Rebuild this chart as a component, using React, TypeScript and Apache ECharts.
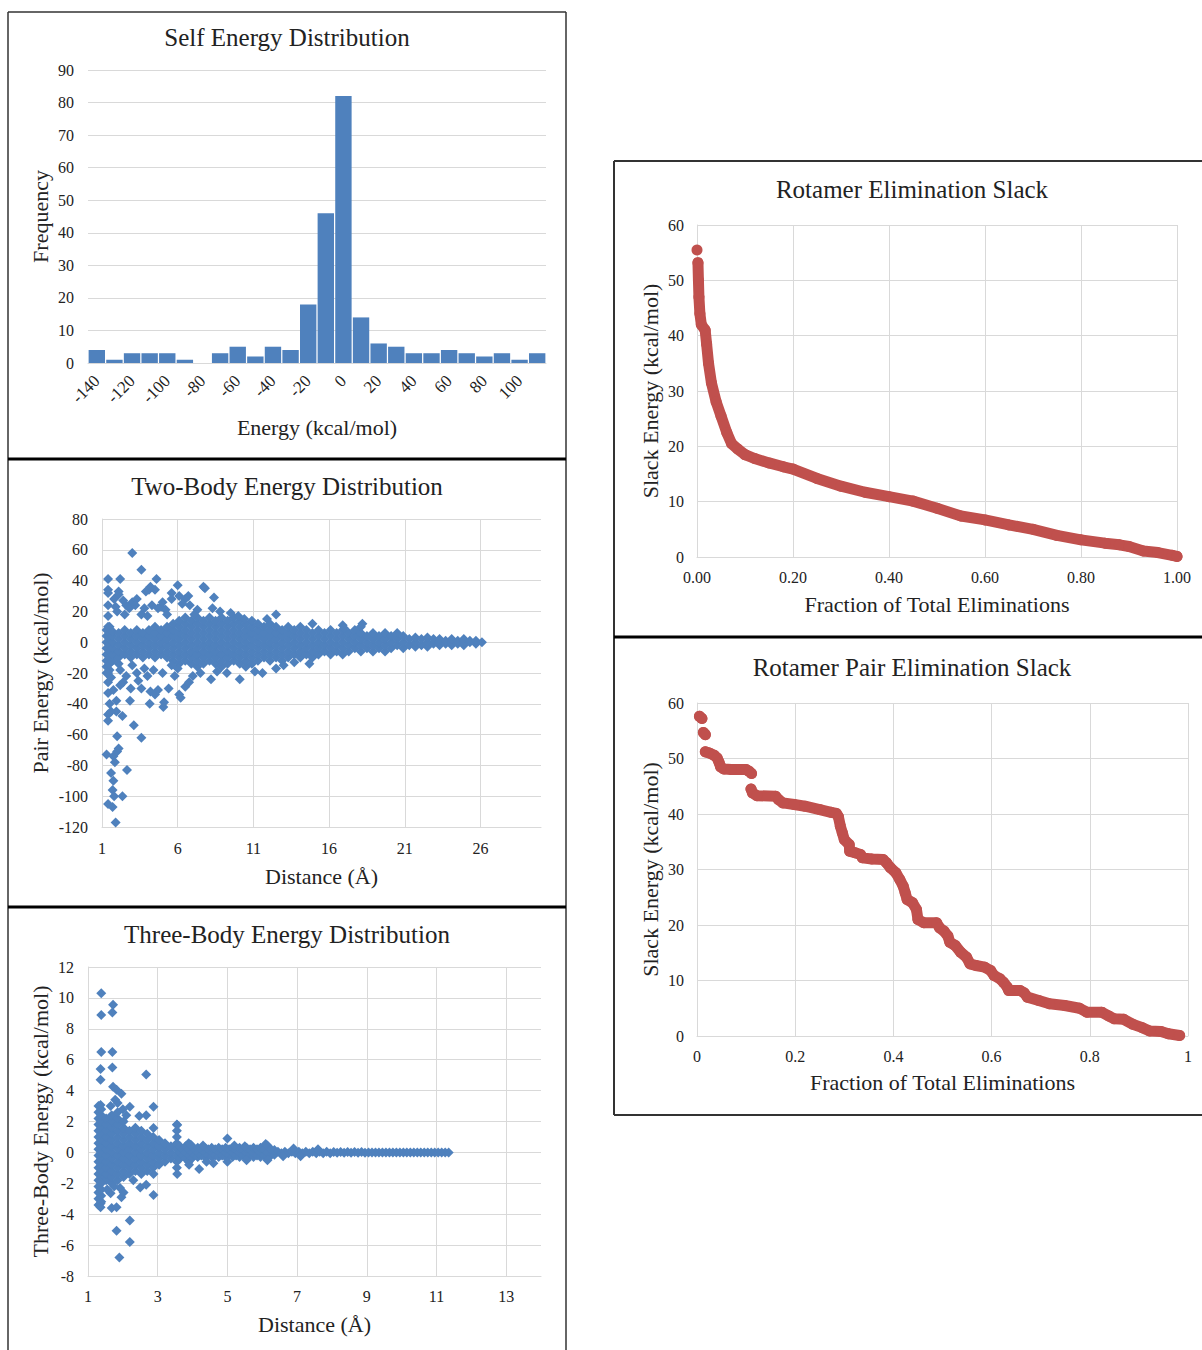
import React, { useEffect, useRef } from "react";
import * as echarts from "echarts";

const FONT = "'Liberation Serif', 'Times New Roman', serif";
const BLUE = "#4F81BD";
const RED = "#C0504D";
const GRID = "#D9D9D9";
const TXT = "#222222";

// ---------- Self energy histogram ----------
const histBins = [-140, -130, -120, -110, -100, -90, -80, -70, -60, -50, -40, -30, -20, -10, 0, 10, 20, 30, 40, 50, 60, 70, 80, 90, 100, 110];
const histCounts = [4, 1, 3, 3, 3, 1, 0, 3, 5, 2, 5, 4, 18, 46, 82, 14, 6, 5, 3, 3, 4, 3, 2, 3, 1, 3];

// ---------- Two-body energy (distance, [energies]) dense core ----------
const pairCore: [number, number[]][] = [
  [1.3, [-20, -16, -12, -8, -4, 0, 4, 8]],
  [1.5, [-18, -14, -10, -6, -2, 2, 6, 10]],
  [1.7, [-12, -8, -4, 0, 4, 7]],
  [2.1, [-14, -10, -6, -2, 2, 6]],
  [2.5, [-8, -4, 0, 4, 8]],
  [2.9, [-10, -6, -2, 2, 6]],
  [3.3, [-8, -4, 0, 4, 8]],
  [3.7, [-10, -6, -2, 2, 6]],
  [4.1, [-8, -4, 0, 4, 8]],
  [4.5, [-10, -6, -2, 2, 6, 10]],
  [4.9, [-8, -4, 0, 4, 8]],
  [5.3, [-10, -6, -2, 2, 6, 10]],
  [5.7, [-12, -8, -4, 0, 4, 8, 12]],
  [6.1, [-14, -10, -6, -2, 2, 6, 10, 14]],
  [6.5, [-12, -8, -4, 0, 4, 8, 12, 16]],
  [6.9, [-14, -10, -6, -2, 2, 6, 10, 14]],
  [7.3, [-16, -12, -8, -4, 0, 4, 8, 12, 16]],
  [7.7, [-14, -10, -6, -2, 2, 6, 10, 14]],
  [8.1, [-12, -8, -4, 0, 4, 8, 12, 16]],
  [8.5, [-14, -10, -6, -2, 2, 6, 10, 14]],
  [8.9, [-16, -12, -8, -4, 0, 4, 8, 12, 16]],
  [9.3, [-14, -10, -6, -2, 2, 6, 10, 14]],
  [9.7, [-12, -8, -4, 0, 4, 8, 12, 16]],
  [10.1, [-14, -10, -6, -2, 2, 6, 10, 14]],
  [10.5, [-16, -12, -8, -4, 0, 4, 8, 12]],
  [10.9, [-14, -10, -6, -2, 2, 6, 10, 14]],
  [11.3, [-12, -8, -4, 0, 4, 8, 12]],
  [11.7, [-10, -6, -2, 2, 6, 10]],
  [12.1, [-12, -8, -4, 0, 4, 8, 12]],
  [12.5, [-10, -6, -2, 2, 6, 10]],
  [12.9, [-12, -8, -4, 0, 4, 8]],
  [13.3, [-10, -6, -2, 2, 6, 10]],
  [13.7, [-8, -4, 0, 4, 8]],
  [14.1, [-10, -6, -2, 2, 6, 10]],
  [14.5, [-8, -4, 0, 4, 8]],
  [14.9, [-10, -6, -2, 2, 6]],
  [15.3, [-8, -4, 0, 4, 8]],
  [15.7, [-6, -2, 2, 6]],
  [16.1, [-8, -4, 0, 4, 8]],
  [16.5, [-6, -2, 2, 6]],
  [16.9, [-8, -4, 0, 4, 8]],
  [17.3, [-6, -2, 2, 6]],
  [17.7, [-4, 0, 4, 8]],
  [18.1, [-6, -2, 2, 6, 10]],
  [18.5, [-4, 0, 4]],
  [18.9, [-6, -2, 2, 6]],
  [19.3, [-4, 0, 4]],
  [19.7, [-6, -2, 2, 6]],
  [20.1, [-4, 0, 4]],
  [20.5, [-2, 2, 6]],
  [20.9, [-4, 0, 4]],
  [21.3, [-2, 2]],
  [21.7, [-3, 0, 3]],
  [22.1, [-2, 2]],
  [22.5, [-3, 0, 3]],
  [22.9, [-1, 2]],
  [23.3, [-2, 0, 2]],
  [23.7, [-1, 1]],
  [24.1, [-2, 0, 2]],
  [24.5, [-1, 1]],
  [24.9, [-2, 0, 2]],
  [25.3, [0, 1]],
  [25.7, [-1, 1]],
  [26.1, [0]],
];

// ---------- Two-body energy scattered points ----------
const pairScatter: [number, number][] = [
  [3.0, 58], [3.6, 47], [1.4, 41], [2.2, 41], [4.6, 41], [6.0, 37], [1.4, 34], [1.4, 32], [2.1, 33], [2.1, 31],
  [4.2, 36], [4.1, 34], [3.9, 33], [4.5, 34], [5.6, 32], [7.7, 36], [7.8, 35], [8.4, 29], [6.7, 30], [6.5, 28],
  [6.1, 30], [3.0, 26], [3.3, 28], [2.4, 27], [2.6, 24], [1.4, 24], [1.4, 17], [1.4, 10], [1.9, 23], [3.6, 18],
  [4.0, 17], [5.6, 28], [4.9, 23], [5.2, 21], [4.7, 22], [7.3, 21], [8.3, 22], [11.9, 15], [12.5, 18], [10.4, 15],
  [14.9, 12], [16.9, 11], [18.2, 12], [17.0, 9], [2.8, 22], [3.2, 24], [4.3, 24], [5.0, 26], [5.3, 18], [2.5, 18],
  [1.8, 28], [2.0, 20], [3.8, 22], [6.3, 25], [6.8, 24], [7.1, 18], [8.8, 20], [9.5, 19], [10.0, 17],
  [1.4, -20], [1.4, -26], [1.4, -33], [1.4, -47], [1.4, -51], [1.3, -73], [1.75, -74], [2.0, -71], [2.1, -69], [1.85, -78],
  [1.6, -85], [1.75, -90], [1.7, -96], [1.8, -100], [1.4, -105], [1.7, -107], [1.9, -117], [2.35, -100], [2.65, -83], [2.0, -61],
  [2.35, -48], [1.95, -45], [1.95, -38], [2.85, -38], [3.1, -54], [3.6, -62], [1.75, -31], [2.2, -28], [2.4, -26], [3.6, -30],
  [4.2, -32], [4.15, -40], [4.5, -34], [4.7, -31], [5.05, -42], [5.1, -39], [5.4, -30], [6.1, -34], [6.2, -36], [6.5, -29],
  [6.75, -26], [3.0, -15], [3.3, -20], [3.8, -17], [8.2, -24], [9.25, -20], [10.1, -24], [11.1, -19], [11.6, -20], [12.5, -17],
  [13.0, -15], [13.7, -13], [14.7, -14], [2.6, -22], [3.4, -25], [4.0, -22], [4.4, -18], [5.0, -20], [5.8, -22], [6.0, -17],
  [7.0, -22], [7.5, -20], [8.6, -19], [2.9, -30], [1.6, -23], [2.2, -18], [5.6, -15], [1.5, -40], [1.6, -45],
];

// ---------- Three-body energy dense core ----------
const threeCore: [number, number[]][] = [
  [1.30, [-3.4, -3.0, -2.6, -2.2, -1.8, -1.4, -1.0, -0.6, -0.2, 0.2, 0.6, 1.0, 1.4, 1.8, 2.2, 2.6, 3.0]],
  [1.38, [-3.2, -2.8, -2.4, -2.0, -1.6, -1.2, -0.8, -0.4, 0, 0.4, 0.8, 1.2, 1.6, 2.0, 2.4, 2.8]],
  [1.52, [-1.8, -1.4, -1.0, -0.6, -0.2, 0.2, 0.6, 1.0, 1.4, 1.8, 2.2]],
  [1.68, [-2.0, -1.6, -1.2, -0.8, -0.4, 0, 0.4, 0.8, 1.2, 1.6, 2.0, 2.4]],
  [1.85, [-1.8, -1.4, -1.0, -0.6, -0.2, 0.2, 0.6, 1.0, 1.4, 1.8, 2.2, 2.6]],
  [2.02, [-1.6, -1.2, -0.8, -0.4, 0, 0.4, 0.8, 1.2, 1.6, 2.0]],
  [2.19, [-1.4, -1.0, -0.6, -0.2, 0.2, 0.6, 1.0, 1.4]],
  [2.36, [-1.2, -0.8, -0.4, 0, 0.4, 0.8, 1.2, 1.6]],
  [2.53, [-1.4, -1.0, -0.6, -0.2, 0.2, 0.6, 1.0, 1.4]],
  [2.70, [-1.2, -0.8, -0.4, 0, 0.4, 0.8, 1.2]],
  [2.87, [-1.0, -0.6, -0.2, 0.2, 0.6, 1.0]],
  [3.04, [-0.8, -0.4, 0, 0.4, 0.8]],
  [3.21, [-0.6, -0.2, 0.2, 0.6]],
  [3.38, [-0.4, 0, 0.4]],
  [3.55, [-1.0, -0.6, -0.2, 0.2, 0.6, 1.0, 1.4, 1.8]],
  [3.64, [-0.4, 0, 0.4]],
  [3.72, [-0.2, 0.2]],
  [3.80, [-0.4, 0, 0.4]],
  [3.89, [-0.6, -0.2, 0.2, 0.6]],
  [3.98, [-0.4, 0, 0.4]],
  [4.06, [-0.2, 0.2]],
  [4.15, [-0.3, 0, 0.3]],
  [4.25, [-0.2, 0.2]],
  [4.35, [-0.3, 0, 0.3]],
  [4.45, [-0.2, 0.2]],
  [4.55, [-0.3, 0, 0.3]],
  [4.65, [-0.2, 0.2]],
  [4.75, [-0.3, 0, 0.3]],
  [4.85, [-0.2, 0.2]],
  [4.95, [-0.3, 0, 0.3]],
  [5.05, [-0.2, 0.2]],
  [5.15, [-0.3, 0, 0.3]],
  [5.25, [-0.2, 0.2]],
  [5.35, [-0.3, 0, 0.3]],
  [5.45, [-0.2, 0.2]],
  [5.55, [-0.3, 0, 0.3]],
  [5.65, [-0.2, 0.2]],
  [5.75, [-0.3, 0, 0.3]],
  [5.85, [-0.2, 0.2]],
  [5.95, [-0.3, 0, 0.3]],
  [6.05, [-0.2, 0.2]],
  [6.15, [-0.3, 0, 0.45]],
  [6.25, [-0.2, 0.2]],
  [6.35, [-0.15, 0.15]],
];

// ---------- Three-body energy long tail and outliers ----------
const threeTail: [number, number][] = [
  [6.45, 0.05], [6.55, -0.05], [6.65, 0.05], [6.75, -0.05], [6.85, 0.05], [6.95, -0.05], [7.05, 0.05], [7.15, -0.05],
  [7.25, 0.05], [7.35, -0.05], [7.45, 0.05], [7.55, -0.05], [7.65, 0.05], [7.75, -0.05], [7.85, 0.05], [7.95, -0.05],
  [8.05, 0.02], [8.15, -0.02], [8.25, 0.02], [8.35, -0.02], [8.45, 0.02], [8.55, -0.02], [8.65, 0.02], [8.75, -0.02],
  [8.85, 0.02], [8.95, -0.02], [9.05, 0], [9.15, 0], [9.25, 0], [9.35, 0], [9.45, 0], [9.55, 0],
  [9.65, 0], [9.75, 0], [9.85, 0], [9.95, 0], [10.05, 0], [10.15, 0], [10.25, 0], [10.35, 0],
  [10.45, 0], [10.55, 0], [10.65, 0], [10.75, 0], [10.85, 0], [10.95, 0], [11.05, 0],
  [11.15, 0], [11.25, 0], [11.35, 0],
  [5.5, 0.4], [5.55, -0.5], [3.9, -0.8], [4.4, -0.6], [4.6, -0.7], [5.0, -0.6], [7.1, -0.25], [7.6, 0.2], [6.15, -0.5],
  [3.95, 0.5], [4.3, 0.45], [5.2, 0.45], [6.1, 0.55], [6.6, -0.25], [6.9, 0.25],
];

const threeScatter: [number, number][] = [
  [1.38, 10.3], [1.38, 8.9], [1.72, 9.55], [1.70, 9.05], [1.38, 6.5], [1.70, 6.5], [1.36, 5.4], [1.70, 5.5], [1.36, 4.7], [2.67, 5.05],
  [1.72, 4.25], [1.82, 4.05], [1.96, 3.8], [1.36, 3.07], [2.20, 2.96], [2.88, 2.96], [1.78, 3.4], [1.85, 3.2], [2.47, 2.35], [2.67, 2.4],
  [3.56, 1.77], [5.00, 0.9], [2.88, 1.58], [1.65, 3.0], [2.0, 2.8], [2.1, 2.4],
  [1.36, -3.3], [1.36, -3.55], [1.68, -3.6], [1.82, -3.55], [1.65, -2.65], [1.96, -2.9], [1.92, -2.3], [2.02, -2.6], [1.82, -5.07], [2.2, -4.4],
  [2.2, -5.8], [1.9, -6.8], [2.5, -2.27], [2.67, -2.1], [2.88, -2.76], [2.88, -1.4], [3.56, -1.4], [4.19, -1.08], [1.36, -1.9], [1.75, -2.2],
  [1.55, -2.4], [2.3, -1.8],
];

// ---------- Rotamer elimination slack ----------
const elimSlackPeak: [number, number][] = [[0.0, 55.5]];
const elimSlack: [number, number][] = [
  [0.002, 53.2], [0.003, 50], [0.004, 47], [0.006, 44], [0.009, 42], [0.017, 41], [0.02, 38.5], [0.024, 35],
  [0.03, 31.5], [0.04, 28], [0.05, 25.5], [0.062, 22.5], [0.072, 20.5], [0.085, 19.5], [0.1, 18.5], [0.12, 17.8],
  [0.15, 17], [0.18, 16.3], [0.2, 15.9], [0.25, 14.2], [0.3, 12.8], [0.35, 11.7], [0.4, 10.9], [0.45, 10.1],
  [0.5, 8.8], [0.55, 7.4], [0.6, 6.7], [0.65, 5.8], [0.7, 5.0], [0.75, 3.9], [0.8, 3.1], [0.85, 2.5],
  [0.88, 2.2], [0.9, 1.9], [0.93, 1.1], [0.96, 0.8], [0.99, 0.3], [1.0, 0.1],
];

// ---------- Rotamer pair elimination slack (segments) ----------
const pairSlackA: [number, number][] = [[0.005, 57.6], [0.01, 57.2]];
const pairSlackB: [number, number][] = [[0.013, 54.7], [0.017, 54.3]];
const pairSlackC: [number, number][] = [
  [0.017, 51.2], [0.025, 51], [0.035, 50.6], [0.041, 50.1], [0.045, 49.3], [0.048, 48.5], [0.055, 48.1],
  [0.07, 48], [0.1, 48], [0.106, 47.7], [0.111, 47.3],
];
const pairSlackD: [number, number][] = [
  [0.11, 44.5], [0.113, 43.8], [0.122, 43.3], [0.16, 43.2], [0.166, 42.6], [0.175, 42.0], [0.198, 41.7], [0.22, 41.4],
  [0.25, 40.8], [0.273, 40.3], [0.284, 40.1], [0.288, 39.5], [0.292, 37.8], [0.296, 36.6], [0.3, 35.4], [0.31, 34.5],
  [0.311, 33.3], [0.322, 33], [0.333, 32.7], [0.337, 32.1], [0.356, 31.9], [0.379, 31.8], [0.386, 31.2], [0.394, 30.3],
  [0.405, 29.4], [0.413, 28.2], [0.42, 27], [0.424, 25.8], [0.428, 24.6], [0.439, 24], [0.447, 22.8], [0.45, 21],
  [0.462, 20.4], [0.488, 20.4], [0.494, 19.5], [0.503, 18.9], [0.511, 18], [0.515, 16.9], [0.526, 16.3], [0.537, 15.1],
  [0.549, 14.2], [0.556, 13], [0.568, 12.7], [0.586, 12.4], [0.598, 11.8], [0.605, 10.9], [0.617, 10.3], [0.624, 9.7],
  [0.632, 8.8], [0.635, 8.2], [0.658, 8.2], [0.666, 7.8], [0.673, 7], [0.696, 6.4], [0.718, 5.8], [0.749, 5.5],
  [0.779, 5], [0.794, 4.3], [0.824, 4.3], [0.839, 3.6], [0.85, 3.1], [0.869, 3], [0.888, 2.1], [0.907, 1.5],
  [0.922, 0.9], [0.945, 0.8], [0.96, 0.4], [0.983, 0.1],
];

// ---------- helpers ----------
const labelStyle = { fontFamily: FONT, fontSize: 16, color: TXT };
const nameStyle = { fontFamily: FONT, fontSize: 22, color: TXT };

function expand(cols: [number, number[]][]): [number, number][] {
  const out: [number, number][] = [];
  cols.forEach(([x, ys]) => ys.forEach((y) => out.push([x, y])));
  return out;
}

function valueAxis(gridIndex: number, extra: any): any {
  return {
    type: "value",
    gridIndex,
    axisLine: { show: true, onZero: false, lineStyle: { color: GRID } },
    axisTick: { show: false },
    splitLine: { show: true, lineStyle: { color: GRID, width: 1 } },
    axisLabel: { ...labelStyle, margin: 13 },
    nameLocation: "middle",
    nameTextStyle: nameStyle,
    ...extra,
  };
}

function slackLine(data: [number, number][], axis: number): any {
  return {
    type: "line",
    xAxisIndex: axis,
    yAxisIndex: axis,
    data,
    clip: false,
    symbol: "circle",
    symbolSize: 11,
    showSymbol: true,
    showAllSymbol: true,
    itemStyle: { color: RED },
    lineStyle: { color: RED, width: 11, cap: "round", join: "round" },
    emphasis: { disabled: true },
  };
}

function border(x1: number, y1: number, x2: number, y2: number, w: number, c: string): any {
  return { type: "line", silent: true, shape: { x1, y1, x2, y2 }, style: { stroke: c, lineWidth: w } };
}

function titleAt(text: string, cx: number, top: number): any {
  return {
    text,
    left: cx,
    top,
    padding: 0,
    textAlign: "center",
    textStyle: { fontFamily: FONT, fontSize: 25, fontWeight: "normal", color: TXT },
  };
}

export default function App() {
  const ref = useRef<HTMLDivElement>(null);
  useEffect(() => {
    if (!ref.current) return;
    const chart = echarts.init(ref.current, null, { renderer: "svg" });

    const pairData = [...expand(pairCore), ...pairScatter].map(([x, y]) => [x - 1, y]);
    const threeData = [...expand(threeCore), ...threeTail, ...threeScatter].map(([x, y]) => [x - 1, y]);

    const option: any = {
      animation: false,
      backgroundColor: "#ffffff",
      title: [
        titleAt("Self Energy Distribution", 287, 25),
        titleAt("Two-Body Energy Distribution", 287, 474),
        titleAt("Three-Body Energy Distribution", 287, 922),
        titleAt("Rotamer Elimination Slack", 912, 177),
        titleAt("Rotamer Pair Elimination Slack", 912, 655),
      ],
      grid: [
        { left: 88, top: 70, width: 458, height: 293 },
        { left: 102, top: 519, width: 439, height: 308 },
        { left: 88, top: 967, width: 453, height: 309 },
        { left: 697, top: 225, width: 480, height: 332 },
        { left: 697, top: 703, width: 491, height: 333 },
      ],
      xAxis: [
        {
          type: "category",
          gridIndex: 0,
          data: histBins.map(String),
          axisLine: { show: true, lineStyle: { color: GRID } },
          axisTick: { show: false },
          axisLabel: { ...labelStyle, fontSize: 17, rotate: 45, interval: 1, margin: 15 },
          name: "Energy (kcal/mol)",
          nameLocation: "middle",
          nameGap: 53,
          nameTextStyle: nameStyle,
        },
        valueAxis(1, {
          min: 0,
          max: 29,
          interval: 5,
          axisLabel: { ...labelStyle, margin: 13, showMaxLabel: false, formatter: (v: number) => String(v + 1) },
          splitLine: { show: true, showMaxLine: false, lineStyle: { color: GRID, width: 1 } },
          name: "Distance (Å)",
          nameGap: 38,
        }),
        valueAxis(2, {
          min: 0,
          max: 13,
          interval: 2,
          axisLabel: { ...labelStyle, margin: 12, showMaxLabel: false, formatter: (v: number) => String(v + 1) },
          splitLine: { show: true, showMaxLine: false, lineStyle: { color: GRID, width: 1 } },
          name: "Distance (Å)",
          nameGap: 37,
        }),
        valueAxis(3, {
          min: 0,
          max: 1,
          interval: 0.2,
          axisLabel: { ...labelStyle, margin: 12, formatter: (v: number) => v.toFixed(2) },
          name: "Fraction of Total Eliminations",
          nameGap: 36,
        }),
        valueAxis(4, {
          min: 0,
          max: 1,
          interval: 0.2,
          axisLabel: { ...labelStyle, margin: 12, formatter: (v: number) => String(Math.round(v * 10) / 10) },
          name: "Fraction of Total Eliminations",
          nameGap: 35,
        }),
      ],
      yAxis: [
        valueAxis(0, {
          min: 0,
          max: 90,
          interval: 10,
          axisLine: { show: false },
          axisLabel: { ...labelStyle, margin: 14 },
          name: "Frequency",
          nameRotate: 90,
          nameGap: 37,
        }),
        valueAxis(1, {
          min: -120,
          max: 80,
          interval: 20,
          axisLabel: { ...labelStyle, margin: 14 },
          name: "Pair Energy (kcal/mol)",
          nameRotate: 90,
          nameGap: 51,
        }),
        valueAxis(2, {
          min: -8,
          max: 12,
          interval: 2,
          axisLabel: { ...labelStyle, margin: 14 },
          name: "Three-Body Energy (kcal/mol)",
          nameRotate: 90,
          nameGap: 37,
        }),
        valueAxis(3, {
          min: 0,
          max: 60,
          interval: 10,
          axisLabel: { ...labelStyle, margin: 13 },
          name: "Slack Energy (kcal/mol)",
          nameRotate: 90,
          nameGap: 36,
        }),
        valueAxis(4, {
          min: 0,
          max: 60,
          interval: 10,
          axisLabel: { ...labelStyle, margin: 13 },
          name: "Slack Energy (kcal/mol)",
          nameRotate: 90,
          nameGap: 36,
        }),
      ],
      series: [
        {
          type: "bar",
          xAxisIndex: 0,
          yAxisIndex: 0,
          data: histCounts,
          barCategoryGap: "7%",
          itemStyle: { color: BLUE },
          emphasis: { disabled: true },
        },
        {
          type: "scatter",
          xAxisIndex: 1,
          yAxisIndex: 1,
          data: pairData,
          clip: false,
          symbol: "diamond",
          symbolSize: 10,
          itemStyle: { color: BLUE, opacity: 1 },
          emphasis: { disabled: true },
        },
        {
          type: "scatter",
          xAxisIndex: 2,
          yAxisIndex: 2,
          data: threeData,
          clip: false,
          symbol: "diamond",
          symbolSize: 10,
          itemStyle: { color: BLUE, opacity: 1 },
          emphasis: { disabled: true },
        },
        slackLine(elimSlackPeak, 3),
        slackLine(elimSlack, 3),
        slackLine(pairSlackA, 4),
        slackLine(pairSlackB, 4),
        slackLine(pairSlackC, 4),
        slackLine(pairSlackD, 4),
      ],
      graphic: [
        border(8, 12, 8, 1350, 1.5, "#333333"),
        border(8, 12, 566, 12, 1.5, "#333333"),
        border(566, 12, 566, 1350, 1.5, "#333333"),
        border(8, 459, 566, 459, 3, "#000000"),
        border(8, 907, 566, 907, 3, "#000000"),
        border(614, 161, 614, 1115, 2, "#333333"),
        border(614, 161, 1202, 161, 2, "#333333"),
        border(614, 1115, 1202, 1115, 2, "#333333"),
        border(614, 637, 1202, 637, 3, "#000000"),
      ],
    };

    chart.setOption(option);
    return () => chart.dispose();
  }, []);

  return (
    <div
      ref={ref}
      style={{ position: "absolute", left: 0, top: 0, width: 1202, height: 1350, background: "#ffffff" }}
    />
  );
}
